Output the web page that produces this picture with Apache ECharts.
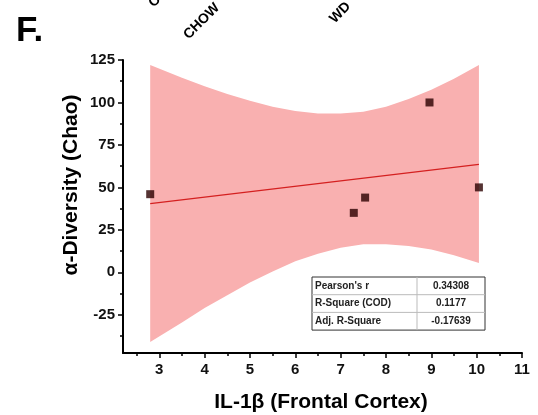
<!DOCTYPE html>
<html>
<head>
<meta charset="utf-8">
<script src="https://cdn.jsdelivr.net/npm/echarts@6/dist/echarts.min.js"></script>
<style>
  html, body { margin: 0; padding: 0; background: #fff; }
  #main { width: 538px; height: 415px; }
</style>
</head>
<body>
<div id="main"></div>
<script>
// data
var il1b = [2.8, 7.29, 7.54, 8.96, 10.05];
var chao = [46, 35, 44, 100, 50];
var fitX = [2.8, 10.05];
var fitY = [40.4, 63.6];
var bandX = [2.8, 3.5, 4, 4.5, 5, 5.5, 6, 6.5, 7, 7.5, 8, 8.5, 9, 9.5, 10.05];
var bandUpper = [122, 114.5, 109.5, 105, 101, 97.5, 95, 93.5, 93.5, 94.5, 97.5, 102, 107.5, 114, 122];
var bandLower = [-41, -29.5, -21, -13.5, -6, 0.5, 6.5, 11, 14.5, 16.5, 16.5, 15.5, 13.5, 10, 5.5];
var yTicks = [-25, 0, 25, 50, 75, 100, 125];
var yMinor = [-37.5, -12.5, 12.5, 37.5, 62.5, 87.5, 112.5];
var xTicks = [3, 4, 5, 6, 7, 8, 9, 10, 11];
var xMinor = [2.5, 3.5, 4.5, 5.5, 6.5, 7.5, 8.5, 9.5, 10.5];
var statNames = ["Pearson's r", 'R-Square (COD)', 'Adj. R-Square'];
var statValues = ['0.34308', '0.1177', '-0.17639'];

var myChart = echarts.init(document.getElementById('main'));

var font = 'Arial, "Liberation Sans", sans-serif';

// stats table drawn on top of the plot
var tableG = [];
var tx = 312, ty = 277, rowH = 17.7, col1 = 105, col2 = 68;
tableG.push({
  type: 'rect', shape: { x: tx, y: ty, width: col1 + col2, height: rowH * 3 },
  style: { fill: '#fff', stroke: '#333', lineWidth: 1 }, z: 100
});
for (var r = 0; r < 3; r++) {
  if (r > 0) {
    tableG.push({
      type: 'line', shape: { x1: tx, y1: ty + rowH * r, x2: tx + col1 + col2, y2: ty + rowH * r },
      style: { stroke: '#bbb', lineWidth: 1 }, z: 101
    });
  }
  tableG.push({
    type: 'text', x: tx + 3, y: ty + rowH * r + rowH / 2, z: 102,
    style: { text: statNames[r], font: 'bold 10px ' + font, fill: '#222', verticalAlign: 'middle' }
  });
  tableG.push({
    type: 'text', x: tx + col1 + col2 / 2, y: ty + rowH * r + rowH / 2, z: 102,
    style: { text: statValues[r], font: 'bold 10px ' + font, fill: '#222', align: 'center', verticalAlign: 'middle' }
  });
}
tableG.push({
  type: 'line', shape: { x1: tx + col1, y1: ty, x2: tx + col1, y2: ty + rowH * 3 },
  style: { stroke: '#bbb', lineWidth: 1 }, z: 101
});

var option = {
  animation: false,
  backgroundColor: '#fff',
  grid: { left: 123, right: 16, top: 60, bottom: 62 },
  xAxis: [{
    type: 'value', min: 2.2, max: 11,
    axisLine: { show: true, onZero: false, lineStyle: { color: '#000', width: 2 } },
    axisTick: { show: true, customValues: xTicks, length: 5, lineStyle: { color: '#000', width: 1.5 } },
    axisLabel: { customValues: xTicks, color: '#111', fontWeight: 'bold', fontSize: 15, fontFamily: font, margin: 9 },
    splitLine: { show: false }
  }, {
    type: 'value', min: 2.2, max: 11, position: 'bottom',
    axisLine: { show: false, onZero: false },
    axisTick: { show: true, customValues: xMinor, length: 3, lineStyle: { color: '#000', width: 1.5 } },
    axisLabel: { show: false },
    splitLine: { show: false }
  }],
  yAxis: [{
    type: 'value', min: -47.5, max: 125,
    axisLine: { show: true, onZero: false, lineStyle: { color: '#000', width: 2 } },
    axisTick: { show: true, customValues: yTicks, length: 5, lineStyle: { color: '#000', width: 1.5 } },
    axisLabel: { customValues: yTicks, color: '#111', fontWeight: 'bold', fontSize: 15, fontFamily: font, margin: 8 },
    splitLine: { show: false }
  }, {
    type: 'value', min: -47.5, max: 125, position: 'left',
    axisLine: { show: false, onZero: false },
    axisTick: { show: true, customValues: yMinor, length: 3, lineStyle: { color: '#000', width: 1.5 } },
    axisLabel: { show: false },
    splitLine: { show: false }
  }],
  graphic: [
    { type: 'text', left: 16, top: 14, style: { text: 'F.', font: 'bold 35px ' + font, fill: '#000' } },
    { type: 'text', x: 146, y: 0, rotation: Math.PI / 4, style: { text: 'CHOW', font: 'bold 14px ' + font, fill: '#000' } },
    { type: 'text', x: 181, y: 32, rotation: Math.PI / 4, style: { text: 'CHOW', font: 'bold 14px ' + font, fill: '#000' } },
    { type: 'text', x: 327, y: 16, rotation: Math.PI / 4, style: { text: 'WD', font: 'bold 14px ' + font, fill: '#000' } },
    { type: 'text', x: 71, y: 185, rotation: Math.PI / 2, style: { text: 'α-Diversity (Chao)', font: 'bold 21px ' + font, fill: '#000', align: 'center', verticalAlign: 'middle' } },
    { type: 'text', x: 321, y: 402, style: { text: 'IL-1β (Frontal Cortex)', font: 'bold 21px ' + font, fill: '#000', align: 'center', verticalAlign: 'middle' } }
  ].concat(tableG),
  series: [
    {
      // confidence band, upper edge left to right then lower edge back
      type: 'custom', z: 1, silent: true,
      data: [0],
      renderItem: function (params, api) {
        var pts = [];
        for (var i = 0; i < bandX.length; i++) pts.push(api.coord([bandX[i], bandUpper[i]]));
        for (var j = bandX.length - 1; j >= 0; j--) pts.push(api.coord([bandX[j], bandLower[j]]));
        return { type: 'polygon', shape: { points: pts }, style: { fill: '#f9b0b0' } };
      }
    },
    {
      type: 'line', data: fitX.map(function (x, i) { return [x, fitY[i]]; }),
      symbol: 'none', lineStyle: { color: '#d42020', width: 1.2 }, z: 2
    },
    {
      type: 'scatter', data: il1b.map(function (x, i) { return [x, chao[i]]; }),
      symbol: 'rect', symbolSize: 8, itemStyle: { color: '#2a0000' }, z: 3
    }
  ]
};
myChart.setOption(option);
</script>
</body>
</html>
